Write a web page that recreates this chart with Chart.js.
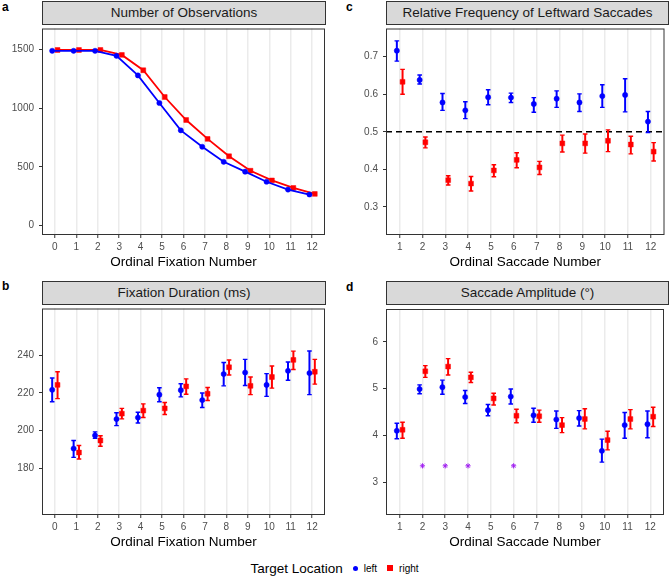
<!DOCTYPE html>
<html>
<head>
<meta charset="utf-8">
<script src="https://cdn.jsdelivr.net/npm/chart.js@4"></script>
<style>
  body { margin: 0; background: #fff; font-family: "Liberation Sans", Arial, sans-serif; }
  #page { position: relative; width: 669px; height: 577px; overflow: hidden; }
  canvas { position: absolute; }
  .strip { position: absolute; box-sizing: border-box; height: 24px; border: 1px solid #333;
           background: #D9D9D9; font-size: 13.5px; color: #1A1A1A; text-align: center; line-height: 22px; }
  .tag { position: absolute; font-weight: bold; font-size: 12px; line-height: 12px; color: #000; }
  #legend { position: absolute; left: 0; top: 560px; width: 669px; text-align: center; font-size: 13.5px; color: #000; }
  #legend span { vertical-align: middle; }
  .key { font-size: 10px; }
  .dot { display: inline-block; width: 5px; height: 5px; border-radius: 50%; background: #0000FF; margin: 0 6px 0 10px; }
  .sq { display: inline-block; width: 6px; height: 6px; background: #FF0000; margin: 0 6px 0 10px; }
</style>
</head>
<body>
<div id="page">
  <div class="tag" style="left:2px;top:1px">a</div>
  <div class="tag" style="left:346px;top:1px">c</div>
  <div class="tag" style="left:2px;top:280px">b</div>
  <div class="tag" style="left:346px;top:281px">d</div>

  <div class="strip" style="left:42px;top:1px;width:284px">Number of Observations</div>
  <div class="strip" style="left:386px;top:1px;width:283px">Relative Frequency of Leftward Saccades</div>
  <div class="strip" style="left:42px;top:281px;width:284px">Fixation Duration (ms)</div>
  <div class="strip" style="left:386px;top:281px;width:283px">Saccade Amplitude (°)</div>

  <canvas id="chartA" width="335" height="246" style="left:0;top:24px"></canvas>
  <canvas id="chartC" width="325" height="246" style="left:344px;top:24px"></canvas>
  <canvas id="chartB" width="335" height="246" style="left:0;top:304px"></canvas>
  <canvas id="chartD" width="325" height="246" style="left:344px;top:304px"></canvas>

  <div id="legend">
    <span>Target Location</span><span class="dot"></span><span class="key">left</span><span class="sq"></span><span class="key">right</span>
  </div>
</div>
<script>
// categories
const fixNums = [0, 1, 2, 3, 4, 5, 6, 7, 8, 9, 10, 11, 12];
const sacNums = [1, 2, 3, 4, 5, 6, 7, 8, 9, 10, 11, 12];

// a: number of observations
const obsLeft = [1490, 1490, 1490, 1447, 1280, 1045, 812, 672, 544, 460, 374, 307, 265];
const obsRight = [1497, 1497, 1497, 1455, 1324, 1096, 900, 739, 591, 468, 385, 321, 270];

// b: fixation duration (ms)
const durLeft = [221.7, 190.4, 197.4, 206.1, 206.9, 219.1, 221.5, 216.2, 230.1, 230.9, 224.3, 231.8, 230.6];
const durLeftLo = [215.3, 185.7, 195.8, 202.6, 204.0, 215.3, 217.9, 212.3, 223.8, 224.0, 218.2, 226.8, 219.1];
const durLeftHi = [228.0, 194.7, 199.3, 209.5, 209.7, 222.8, 224.9, 220.0, 236.2, 237.9, 230.3, 236.5, 242.4];
const durRight = [224.3, 188.3, 194.7, 209.0, 210.6, 211.8, 223.5, 219.6, 233.7, 223.8, 228.5, 237.6, 231.3];
const durRightLo = [217.0, 184.8, 191.6, 206.2, 206.9, 208.5, 219.3, 216.0, 229.6, 219.1, 222.6, 232.5, 224.7];
const durRightHi = [231.3, 192.0, 197.2, 211.8, 214.2, 214.9, 227.5, 222.9, 237.6, 228.5, 234.4, 242.3, 237.9];

// c: relative frequency of leftward saccades
const freqLeft = [0.716, 0.638, 0.578, 0.557, 0.592, 0.591, 0.574, 0.588, 0.578, 0.595, 0.598, 0.527];
const freqLeftLo = [0.688, 0.627, 0.557, 0.535, 0.572, 0.578, 0.552, 0.565, 0.554, 0.565, 0.553, 0.498];
const freqLeftHi = [0.742, 0.651, 0.602, 0.580, 0.612, 0.603, 0.591, 0.609, 0.601, 0.625, 0.641, 0.554];
const freqRight = [0.633, 0.472, 0.371, 0.362, 0.397, 0.425, 0.405, 0.469, 0.469, 0.476, 0.466, 0.447];
const freqRightLo = [0.600, 0.457, 0.358, 0.342, 0.380, 0.404, 0.386, 0.446, 0.443, 0.447, 0.441, 0.422];
const freqRightHi = [0.666, 0.486, 0.383, 0.381, 0.412, 0.444, 0.421, 0.491, 0.494, 0.505, 0.488, 0.471];
const chanceLevel = 0.5;

// d: saccade amplitude (deg)
const ampLeft = [4.10, 4.99, 5.03, 4.82, 4.54, 4.83, 4.43, 4.34, 4.37, 3.67, 4.22, 4.24];
const ampLeftLo = [3.93, 4.89, 4.88, 4.68, 4.42, 4.67, 4.28, 4.15, 4.20, 3.43, 3.94, 3.95];
const ampLeftHi = [4.26, 5.08, 5.18, 4.96, 4.66, 4.99, 4.58, 4.52, 4.53, 3.92, 4.49, 4.52];
const ampRight = [4.12, 5.37, 5.47, 5.24, 4.79, 4.42, 4.41, 4.22, 4.35, 3.90, 4.35, 4.40];
const ampRightLo = [3.94, 5.24, 5.29, 5.13, 4.65, 4.27, 4.28, 4.06, 4.14, 3.69, 4.14, 4.19];
const ampRightHi = [4.28, 5.49, 5.64, 5.35, 4.90, 4.56, 4.54, 4.38, 4.57, 4.09, 4.55, 4.60];
const sigNums = [2, 3, 4, 6];
const sigLevel = 3.35;

// tick labels
const obsTicks = [0, 500, 1000, 1500];
const durTicks = [180, 200, 220, 240];
const freqTicks = [0.3, 0.4, 0.5, 0.6, 0.7];
const ampTicks = [3, 4, 5, 6];

const BLUE = '#0000FF';
const RED = '#FF0000';
const DODGE = 0.125;
const FONT = '"Liberation Sans", Arial, sans-serif';

function pts(xs, ys, shift) {
    return xs.map((v, i) => ({ x: v + shift, y: ys[i] }));
}

const errorBars = {
    id: 'errorBars',
    beforeDatasetsDraw(chart) {
        const { ctx, scales: { x, y } } = chart;
        chart.data.datasets.forEach(ds => {
            if (!ds.errLo) return;
            ctx.save();
            ctx.strokeStyle = ds.borderColor;
            ds.data.forEach((p, i) => {
                const px = x.getPixelForValue(p.x);
                const lo = y.getPixelForValue(ds.errLo[i]);
                const hi = y.getPixelForValue(ds.errHi[i]);
                ctx.lineWidth = 2;
                ctx.beginPath();
                ctx.moveTo(px, lo);
                ctx.lineTo(px, hi);
                ctx.stroke();
                ctx.lineWidth = 1.4;
                ctx.beginPath();
                ctx.moveTo(px - 2.3, lo); ctx.lineTo(px + 2.3, lo);
                ctx.moveTo(px - 2.3, hi); ctx.lineTo(px + 2.3, hi);
                ctx.stroke();
            });
            ctx.restore();
        });
    }
};

const frame = {
    id: 'frame',
    afterDraw(chart) {
        const { ctx, chartArea: a } = chart;
        ctx.save();
        ctx.strokeStyle = '#333333';
        ctx.lineWidth = 1;
        ctx.strokeRect(a.left + 0.5, a.top + 0.5, a.right - a.left - 1, a.bottom - a.top - 1);
        ctx.restore();
    }
};

const refLine = {
    id: 'refLine',
    beforeDatasetsDraw(chart) {
        const { ctx, chartArea: a, scales: { y } } = chart;
        const py = y.getPixelForValue(chanceLevel);
        ctx.save();
        ctx.strokeStyle = '#000';
        ctx.lineWidth = 1.6;
        ctx.setLineDash([6, 4]);
        ctx.beginPath();
        ctx.moveTo(a.left, py);
        ctx.lineTo(a.right, py);
        ctx.stroke();
        ctx.restore();
    }
};

function makePanel(id, opt) {
    return new Chart(id, {
        type: 'scatter',
        data: { datasets: opt.datasets },
        options: {
            responsive: false,
            animation: false,
            events: [],
            layout: { padding: { left: 0, top: 0, bottom: 0, right: opt.padRight } },
            plugins: { legend: { display: false }, tooltip: { enabled: false } },
            scales: {
                x: {
                    type: 'linear',
                    min: opt.xMin,
                    max: opt.xMax,
                    afterBuildTicks: s => { s.ticks = opt.cats.map(v => ({ value: v })); },
                    afterFit: s => { s.height = 35; s.paddingLeft = 0; s.paddingRight = 0; },
                    ticks: { font: { family: FONT, size: 10 }, color: '#4D4D4D', padding: 3, maxRotation: 0, autoSkip: false },
                    grid: { color: '#EBEBEB', lineWidth: 1.5, tickColor: '#333333', tickWidth: 1, tickLength: 3 },
                    border: { display: false },
                    title: { display: true, text: opt.xTitle, color: '#000', font: { family: FONT, size: 13.5 },
                             padding: { top: 0, bottom: 0 } }
                },
                y: {
                    min: opt.yMin,
                    max: opt.yMax,
                    afterBuildTicks: s => { s.ticks = opt.yTicks.map(v => ({ value: v })); },
                    afterFit: s => { s.width = 42; s.paddingTop = 0; s.paddingBottom = 0; },
                    ticks: { font: { family: FONT, size: 10 }, color: '#4D4D4D', padding: 5, callback: v => String(v) },
                    grid: { drawOnChartArea: false, tickColor: '#333333', tickWidth: 1, tickLength: 3 },
                    border: { display: false }
                }
            }
        },
        plugins: opt.plugins
    });
}

function pointSet(data, color, style, extra) {
    return Object.assign({
        data: data,
        borderColor: color,
        backgroundColor: color,
        pointStyle: style,
        pointRadius: style === 'rect' ? 3.4 : 2.6,
        pointBorderWidth: 0.5
    }, extra || {});
}

// a
makePanel('chartA', {
    cats: fixNums, xMin: -0.6, xMax: 12.6, yMin: -80, yMax: 1680, yTicks: obsTicks,
    xTitle: 'Ordinal Fixation Number', padRight: 10,
    plugins: [frame],
    datasets: [
        pointSet(pts(fixNums, obsLeft, -DODGE), BLUE, 'circle', { showLine: true, borderWidth: 1.8 }),
        pointSet(pts(fixNums, obsRight, DODGE), RED, 'rect', { showLine: true, borderWidth: 1.8 })
    ]
});

// c
makePanel('chartC', {
    cats: sacNums, xMin: 0.4, xMax: 12.6, yMin: 0.225, yMax: 0.775, yTicks: freqTicks,
    xTitle: 'Ordinal Saccade Number', padRight: 1,
    plugins: [refLine, errorBars, frame],
    datasets: [
        pointSet(pts(sacNums, freqLeft, -DODGE), BLUE, 'circle', { errLo: freqLeftLo, errHi: freqLeftHi }),
        pointSet(pts(sacNums, freqRight, DODGE), RED, 'rect', { errLo: freqRightLo, errHi: freqRightHi })
    ]
});

// b
makePanel('chartB', {
    cats: fixNums, xMin: -0.6, xMax: 12.6, yMin: 155, yMax: 265, yTicks: durTicks,
    xTitle: 'Ordinal Fixation Number', padRight: 10,
    plugins: [errorBars, frame],
    datasets: [
        pointSet(pts(fixNums, durLeft, -DODGE), BLUE, 'circle', { errLo: durLeftLo, errHi: durLeftHi }),
        pointSet(pts(fixNums, durRight, DODGE), RED, 'rect', { errLo: durRightLo, errHi: durRightHi })
    ]
});

// d
makePanel('chartD', {
    cats: sacNums, xMin: 0.4, xMax: 12.6, yMin: 2.3, yMax: 6.7, yTicks: ampTicks,
    xTitle: 'Ordinal Saccade Number', padRight: 1,
    plugins: [errorBars, frame],
    datasets: [
        pointSet(pts(sacNums, ampLeft, -DODGE), BLUE, 'circle', { errLo: ampLeftLo, errHi: ampLeftHi }),
        pointSet(pts(sacNums, ampRight, DODGE), RED, 'rect', { errLo: ampRightLo, errHi: ampRightHi }),
        {
            data: sigNums.map(v => ({ x: v, y: sigLevel })),
            borderColor: '#A020F0',
            backgroundColor: '#A020F0',
            pointStyle: 'star',
            pointRadius: 2.6,
            pointBorderWidth: 1
        }
    ]
});
</script>
</body>
</html>
